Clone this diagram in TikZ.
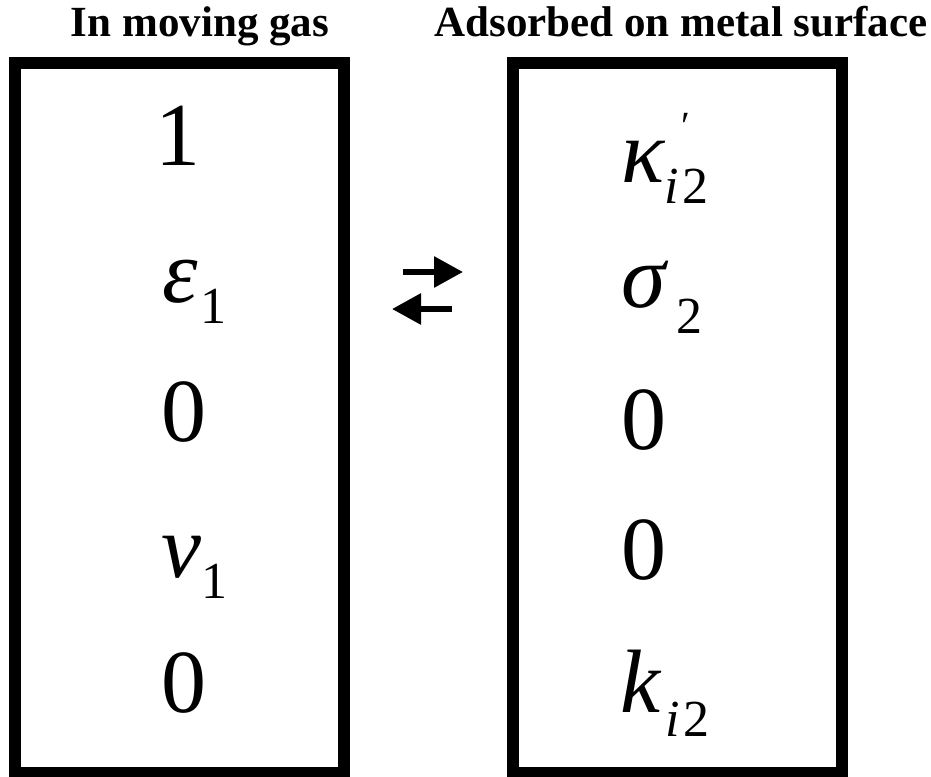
\documentclass[tikz,border=0pt]{standalone}
\usepackage{fontspec}
\setmainfont{Liberation Serif}
\usetikzlibrary{arrows.meta}
\newcommand{\bigsz}{\fontsize{90}{90}\selectfont}
\newcommand{\subsz}{\fontsize{52}{52}\selectfont}
\begin{document}
\begin{tikzpicture}[x=1pt,y=-1pt,
  panel/.style={draw, line width=12pt, minimum width=329pt, minimum height=709.4pt, inner sep=0pt, outer sep=0pt},
  title/.style={font=\fontsize{43}{43}\selectfont\bfseries, anchor=base, inner sep=0pt},
  big/.style={font=\bigsz, anchor=base west, inner sep=0pt},
  sub/.style={font=\subsz, anchor=base west, inner sep=0pt},
  prime/.style={font=\fontsize{40}{40}\selectfont, anchor=base west, inner sep=0pt},
  react/.style={line width=6pt, -{Triangle[length=29pt,width=30pt]}}]
\useasboundingbox (0,0) rectangle (931,776);
% titles
\node[title] (t1) at (200,37) {In moving gas};
\node[title] (t2) at (681,37) {Adsorbed on metal surface};
% boxes
\node[panel] (gas) at (179,418) {};
\node[panel] (ads) at (677.8,418) {};
% left column
\node[big] (g1) at (155,165) {1};
\node[big] (g2) at (162,302) {\itshape ε};
\node[sub] (g2s) at (200,323) {1};
\node[big] (g3) at (161,441) {0};
\node[big] (g4) at (161,577) {\itshape ν};
\node[sub] (g4s) at (201,598) {1};
\node[big] (g5) at (161,712) {0};
% right column
\node[big] (a1) at (621,182) {\itshape κ};
\node[sub] (a1s) at (664,203) {\itshape i\kern4pt\upshape 2};
\node[prime] (a1p) at (681,139) {′};
\node[big] (a2) at (621,307) {\itshape σ};
\node[sub] (a2s) at (676,333) {2};
\node[big] (a3) at (621,449) {0};
\node[big] (a4) at (621,579) {0};
\node[big] (a5) at (620,712) {\itshape k};
\node[sub] (a5s) at (665,736) {\itshape i\kern4pt\upshape 2};
% equilibrium arrows
\coordinate (f0) at (403,272);
\coordinate (f1) at (463,272);
\coordinate (b0) at (452,309);
\coordinate (b1) at (392,309);
\draw[react] (f0) -- (f1);
\draw[react] (b0) -- (b1);
\end{tikzpicture}
\end{document}
